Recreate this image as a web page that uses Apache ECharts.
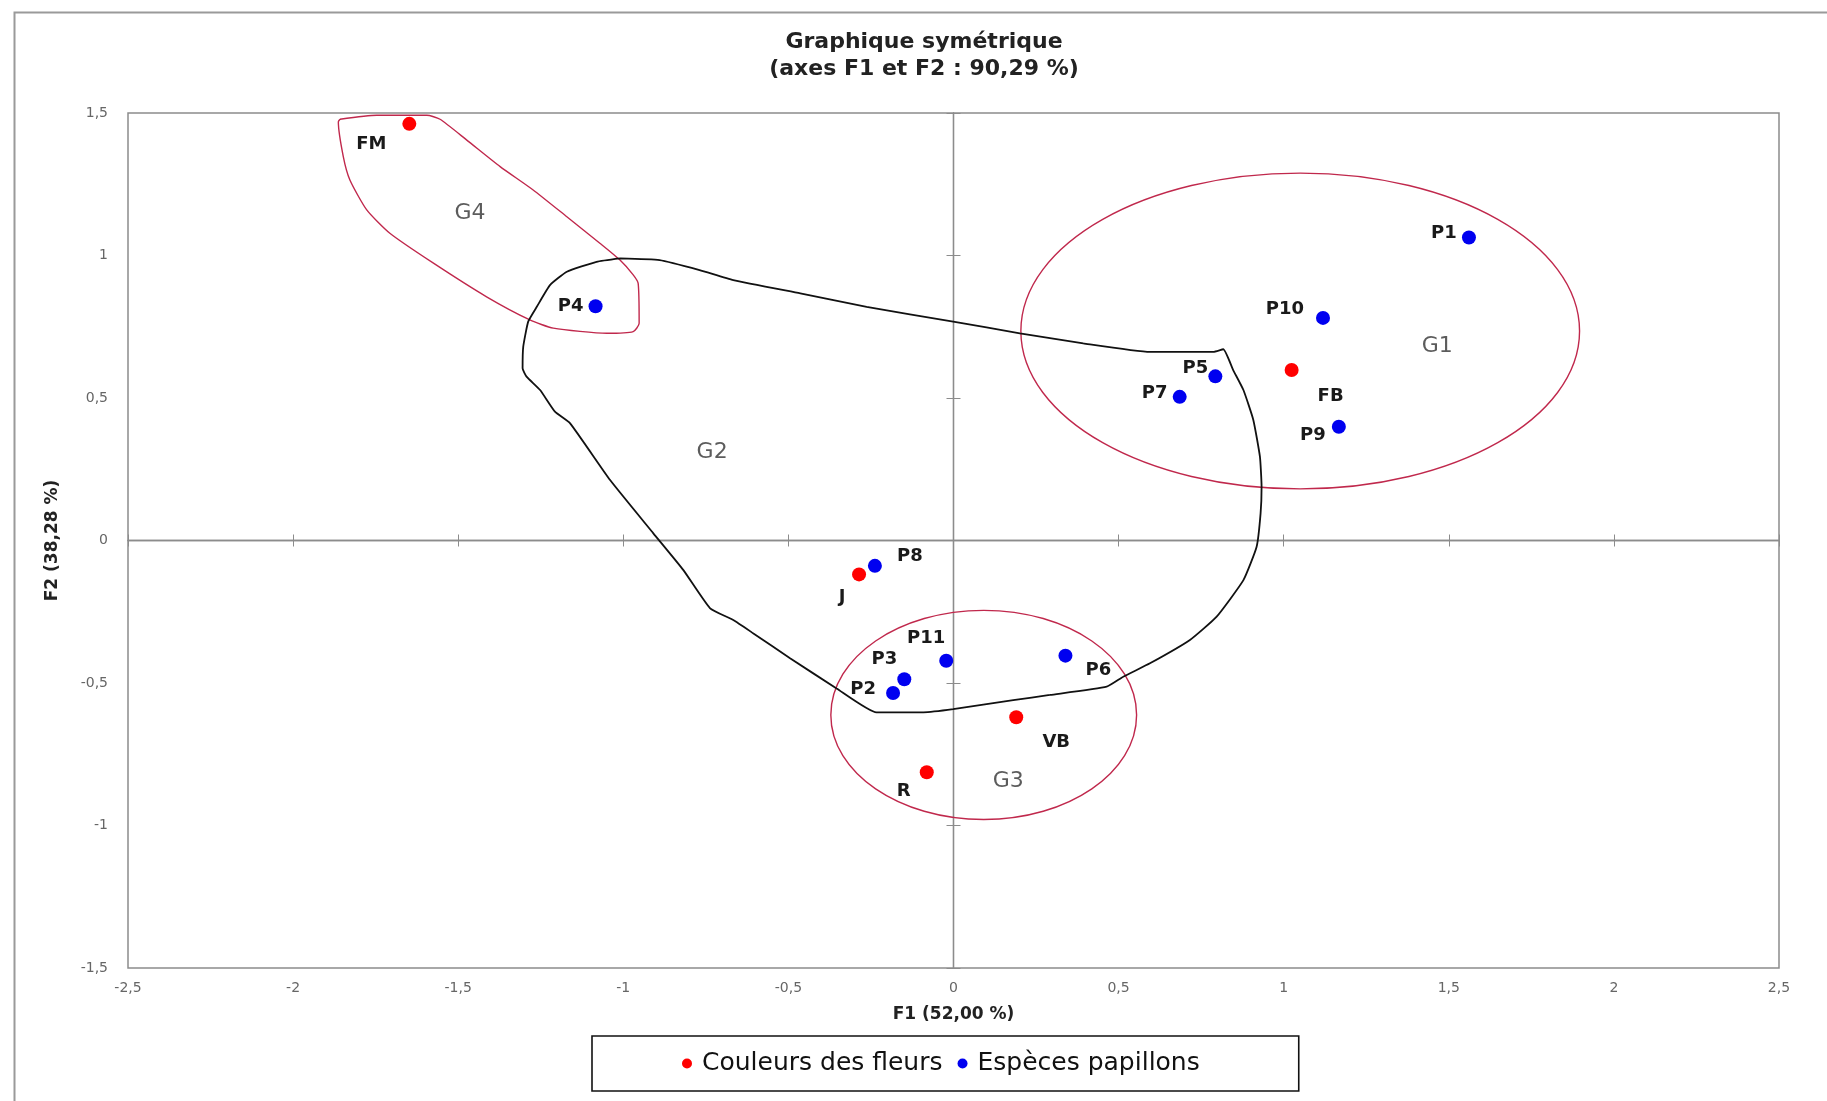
<!DOCTYPE html>
<html lang="fr">
<head>
<meta charset="utf-8">
<title>Graphique symétrique</title>
<script src="https://cdn.jsdelivr.net/npm/echarts@6/dist/echarts.min.js"></script>
<style>
  html, body { margin: 0; padding: 0; background: #fff; }
  #chart { width: 1827px; height: 1101px; }
</style>
</head>
<body>
<div id="chart"></div>
<script>
// Coordinates on the first two factorial axes
const flowerNames = ['FM', 'FB', 'J', 'VB', 'R'];
const flowerF1 = [-1.648, 1.024, -0.286, 0.190, -0.081];
const flowerF2 = [1.462, 0.598, -0.119, -0.620, -0.813];

const butterflyNames = ['P1', 'P2', 'P3', 'P4', 'P5', 'P6', 'P7', 'P8', 'P9', 'P10', 'P11'];
const butterflyF1 = [1.561, -0.183, -0.149, -1.084, 0.793, 0.339, 0.685, -0.238, 1.167, 1.119, -0.022];
const butterflyF2 = [1.063, -0.535, -0.487, 0.822, 0.576, -0.404, 0.504, -0.089, 0.399, 0.781, -0.422];

// Axis ranges and ticks
const f1Range = [-2.5, 2.5];
const f2Range = [-1.5, 1.5];
const tickStep = 0.5;

// Group names and where their captions sit (F1, F2)
const groupNames = ['G1', 'G2', 'G3', 'G4'];
const groupF1 = [1.465, -0.731, 0.166, -1.464];
const groupF2 = [0.680, 0.311, -0.844, 1.148];

// Ellipses around G1 and G3: centre F1, centre F2, radius F1, radius F2
const g1Ellipse = [1.050, 0.735, 0.846, 0.554];
const g3Ellipse = [0.0915, -0.612, 0.463, 0.367];

// Hand-drawn outline of G4 (F1, F2)
const g4Outline = [
  [-1.858, 1.478], [-1.747, 1.492], [-1.595, 1.492], [-1.555, 1.478], [-1.474, 1.405],
  [-1.373, 1.312], [-1.273, 1.230], [-1.171, 1.136], [-1.071, 1.043], [-1.010, 0.984],
  [-0.970, 0.932], [-0.955, 0.902], [-0.952, 0.762], [-0.970, 0.733], [-1.050, 0.727],
  [-1.212, 0.745], [-1.283, 0.774], [-1.414, 0.855], [-1.575, 0.973], [-1.707, 1.078],
  [-1.777, 1.160], [-1.828, 1.265], [-1.848, 1.347], [-1.863, 1.469], [-1.858, 1.478]
];

// Hand-drawn outline of G2 (F1, F2)
const g2Outline = [
  [-1.010, 0.990], [-0.890, 0.984], [-0.769, 0.949], [-0.667, 0.914], [-0.464, 0.867],
  [-0.263, 0.820], [-0.001, 0.768], [0.201, 0.727], [0.393, 0.692], [0.595, 0.662],
  [0.787, 0.662], [0.817, 0.671], [0.847, 0.598], [0.878, 0.528], [0.908, 0.423],
  [0.928, 0.294], [0.933, 0.189], [0.930, 0.095], [0.918, -0.022], [0.878, -0.139],
  [0.797, -0.267], [0.716, -0.349], [0.595, -0.431], [0.514, -0.478], [0.464, -0.513],
  [0.292, -0.542], [0.181, -0.560], [-0.001, -0.592], [-0.091, -0.603], [-0.233, -0.603],
  [-0.354, -0.519], [-0.495, -0.413], [-0.606, -0.326], [-0.667, -0.279], [-0.737, -0.238],
  [-0.818, -0.104], [-0.909, 0.025], [-1.040, 0.212], [-1.161, 0.411], [-1.207, 0.452],
  [-1.252, 0.528], [-1.293, 0.575], [-1.305, 0.604], [-1.303, 0.680], [-1.288, 0.768],
  [-1.262, 0.820], [-1.222, 0.896], [-1.171, 0.943], [-1.081, 0.978], [-1.010, 0.990]
];

// Where each point label sits relative to its dot (pixels)
const labelShift = {
  FM: [-38, 20], FB: [39, 26], J: [-17, 23], VB: [40, 25], R: [-23, 19],
  P1: [-25, -4], P2: [-30, -4], P3: [-20, -20], P4: [-25, 0], P5: [-20, -8],
  P6: [33, 15], P7: [-25, -4], P8: [35, -10], P9: [-26, 9], P10: [-38, -9], P11: [-20, -22]
};

const FONT = "'DejaVu Sans', sans-serif";
const OUTLINE_RED = '#c0284c';

function pointItems(names, xs, ys) {
  return names.map((n, i) => ({
    value: [xs[i], ys[i]],
    name: n,
    label: { offset: labelShift[n] || [0, 0] }
  }));
}

const comma = v => String(v).replace('.', ',');

function ellipseRenderer(params, api) {
  const c = api.coord([api.value(0), api.value(1)]);
  const s = api.size([api.value(2), api.value(3)]);
  return {
    type: 'ellipse',
    shape: { cx: c[0], cy: c[1], rx: s[0], ry: s[1] },
    style: { fill: 'none', stroke: OUTLINE_RED, lineWidth: 1.4 }
  };
}

const zeroAxisBase = {
  type: 'value', gridIndex: 0,
  axisLabel: { show: false }, splitLine: { show: false },
  axisLine: { show: true, onZero: true, lineStyle: { color: '#8c8c8c', width: 1.3 } }
};

const chart = echarts.init(document.getElementById('chart'), null, { renderer: 'canvas' });

chart.setOption({
  animation: false,
  backgroundColor: '#ffffff',
  textStyle: { fontFamily: FONT },
  title: {
    text: 'Graphique symétrique\n(axes F1 et F2 : 90,29 %)',
    left: 919, top: 24, textAlign: 'center',
    textStyle: { fontFamily: FONT, fontWeight: 'bold', fontSize: 22, lineHeight: 27, color: '#222' }
  },
  graphic: [{
    type: 'rect', left: 12, top: 10, silent: true,
    shape: { width: 1830, height: 1100 },
    style: { fill: 'none', stroke: '#9a9a9a', lineWidth: 2 }
  }],
  grid: {
    left: 128, right: 48, top: 113, bottom: 133,
    show: true, borderColor: '#8c8c8c', borderWidth: 1.5, backgroundColor: 'transparent'
  },
  legend: {
    data: ['Couleurs des fleurs', 'Espèces papillons'],
    left: 592, top: 1036,
    orient: 'horizontal',
    icon: 'circle', itemWidth: 20, itemHeight: 10, itemGap: 15,
    padding: [15, 99, 15, 90],
    borderColor: '#111', borderWidth: 1.6,
    textStyle: { fontFamily: FONT, fontSize: 25, color: '#111' }
  },
  xAxis: [
    {
      type: 'value', min: f1Range[0], max: f1Range[1], interval: tickStep,
      position: 'bottom',
      axisLine: { show: false, onZero: false }, axisTick: { show: false },
      splitLine: { show: false },
      axisLabel: { formatter: comma, margin: 13, color: '#666', fontSize: 14 },
      name: 'F1 (52,00 %)', nameLocation: 'middle', nameGap: 38,
      nameTextStyle: { fontWeight: 'bold', fontSize: 17, color: '#222', verticalAlign: 'top' }
    },
    Object.assign({}, zeroAxisBase, {
      min: f1Range[0], max: f1Range[1], interval: tickStep, position: 'bottom',
      axisTick: { show: true, inside: false, length: 6, lineStyle: { color: '#8c8c8c' } }
    }),
    Object.assign({}, zeroAxisBase, {
      min: f1Range[0], max: f1Range[1], interval: tickStep, position: 'bottom',
      axisTick: { show: true, inside: true, length: 6, lineStyle: { color: '#8c8c8c' } }
    })
  ],
  yAxis: [
    {
      type: 'value', min: f2Range[0], max: f2Range[1], interval: tickStep,
      position: 'left',
      axisLine: { show: false, onZero: false }, axisTick: { show: false },
      splitLine: { show: false },
      axisLabel: { formatter: comma, margin: 20, color: '#666', fontSize: 14 },
      name: 'F2 (38,28 %)', nameLocation: 'middle', nameGap: 67,
      nameTextStyle: { fontWeight: 'bold', fontSize: 17, color: '#222' }
    },
    Object.assign({}, zeroAxisBase, {
      min: f2Range[0], max: f2Range[1], interval: tickStep, position: 'left',
      axisTick: { show: true, inside: false, length: 7, lineStyle: { color: '#8c8c8c' } }
    }),
    Object.assign({}, zeroAxisBase, {
      min: f2Range[0], max: f2Range[1], interval: tickStep, position: 'left',
      axisTick: { show: true, inside: true, length: 7, lineStyle: { color: '#8c8c8c' } }
    })
  ],
  series: [
    {
      name: 'G1 ellipse', type: 'custom', silent: true, z: 2,
      xAxisIndex: 0, yAxisIndex: 0,
      renderItem: ellipseRenderer, encode: { x: 0, y: 1 },
      data: [g1Ellipse]
    },
    {
      name: 'G3 ellipse', type: 'custom', silent: true, z: 2,
      xAxisIndex: 0, yAxisIndex: 0,
      renderItem: ellipseRenderer, encode: { x: 0, y: 1 },
      data: [g3Ellipse]
    },
    {
      name: 'G4 outline', type: 'line', silent: true, z: 2,
      xAxisIndex: 0, yAxisIndex: 0,
      showSymbol: false, symbol: 'none', smooth: 0.2,
      lineStyle: { color: OUTLINE_RED, width: 1.4 },
      data: g4Outline
    },
    {
      name: 'G2 outline', type: 'line', silent: true, z: 2,
      xAxisIndex: 0, yAxisIndex: 0,
      showSymbol: false, symbol: 'none', smooth: 0.15,
      lineStyle: { color: '#111', width: 1.8 },
      data: g2Outline
    },
    {
      name: 'Groupes', type: 'scatter', silent: true, z: 3,
      xAxisIndex: 0, yAxisIndex: 0,
      symbolSize: 0,
      label: {
        show: true, position: 'inside', formatter: p => p.name,
        fontFamily: FONT, fontSize: 22, color: '#333'
      },
      data: groupNames.map((n, i) => ({ value: [groupF1[i], groupF2[i]], name: n }))
    },
    {
      name: 'Couleurs des fleurs', type: 'scatter', z: 5,
      xAxisIndex: 0, yAxisIndex: 0,
      symbol: 'circle', symbolSize: 14,
      itemStyle: { color: '#ff0000', opacity: 1 },
      label: {
        show: true, position: 'inside', formatter: p => p.name,
        fontFamily: FONT, fontWeight: 'bold', fontSize: 18, color: '#1a1a1a'
      },
      data: pointItems(flowerNames, flowerF1, flowerF2)
    },
    {
      name: 'Espèces papillons', type: 'scatter', z: 5,
      xAxisIndex: 0, yAxisIndex: 0,
      symbol: 'circle', symbolSize: 14,
      itemStyle: { color: '#0000f0', opacity: 1 },
      label: {
        show: true, position: 'inside', formatter: p => p.name,
        fontFamily: FONT, fontWeight: 'bold', fontSize: 18, color: '#1a1a1a'
      },
      data: pointItems(butterflyNames, butterflyF1, butterflyF2)
    }
  ]
});
</script>
</body>
</html>
